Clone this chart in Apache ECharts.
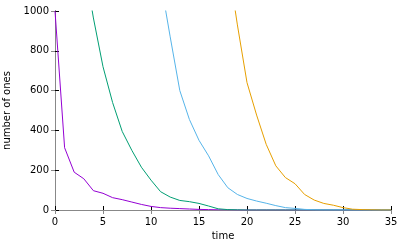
<!DOCTYPE html>
<html><head><meta charset="utf-8">
<script src="https://cdn.jsdelivr.net/npm/echarts@6/dist/echarts.min.js"></script>
<style>html,body{margin:0;padding:0;background:#fff}#c{width:409px;height:245px}</style>
</head><body><div id="c"></div>
<script>
const time = [0,1,2,3,4,5,6,7,8,9,10,11,12,13,14,15,16,17,18,19,20,21,22,23,24,25,26,27,28,29,30,31,32,33,34,35];
const run1 = [1000,313,190,157,97,84,62,52,40,28,18,12,9,7,5,3,2,1,1,0,0,0,0,0,0,0,0,0,0,0,0,0,0,0,0,0];
const run2 = [null,null,null,1250,965,720,540,395,300,215,150,92,65,48,42,33,20,6,2,1,0,0,0,0,0,0,0,0,0,0,0,0,0,0,0,0];
const run3 = [null,null,null,null,null,null,null,null,null,null,null,1150,870,600,455,350,272,178,112,78,58,45,34,22,12,8,3,1,0,0,0,0,0,0,0,0];
const run4 = [null,null,null,null,null,null,null,null,null,null,null,null,null,null,null,null,null,null,1250,930,640,477,330,222,163,132,78,50,33,24,12,4,2,1,0,0];
const xTicks = [0,5,10,15,20,25,30,35];
const yTicks = [0,200,400,600,800,1000];
const colors = ['#9400d3','#009e73','#56b4e9','#e69f00'];

const pairs = arr => time.map((t,i)=>[t,arr[i]]);
const font = 'DejaVu Sans';
const chart = echarts.init(document.getElementById('c'), null, {renderer:'canvas'});
chart.setOption({
  animation:false,
  grid:{left:55,right:18,top:11,bottom:35,containLabel:false,outerBoundsMode:'none'},
  xAxis:[{
    type:'value',min:xTicks[0],max:xTicks[xTicks.length-1],interval:5,
    name:'time',nameLocation:'middle',nameGap:21,
    nameTextStyle:{fontFamily:font,fontSize:10,color:'#000'},
    axisLine:{show:true,onZero:false,lineStyle:{color:'#000',width:1}},
    axisTick:{show:true,inside:true,length:4,lineStyle:{color:'#000'}},
    axisLabel:{fontFamily:font,fontSize:10,color:'#000',margin:7,formatter:v=>String(v)},
    splitLine:{show:false}
  },{
    type:'value',position:'top',min:0,max:35,interval:5,
    axisLine:{show:true,lineStyle:{color:'#888',width:1}},
    axisTick:{show:true,inside:true,length:4,lineStyle:{color:'#888'}},
    axisLabel:{show:false},splitLine:{show:false}
  }],
  yAxis:[{
    type:'value',min:yTicks[0],max:yTicks[yTicks.length-1],interval:200,
    name:'number of ones',nameLocation:'middle',nameGap:42,nameRotate:90,
    nameTextStyle:{fontFamily:font,fontSize:10,color:'#000'},
    axisLine:{show:true,lineStyle:{color:'#000',width:1}},
    axisTick:{show:true,inside:true,length:4,lineStyle:{color:'#000'}},
    axisLabel:{fontFamily:font,fontSize:10,color:'#000',margin:6,formatter:v=>String(v)},
    splitLine:{show:false}
  },{
    type:'value',position:'right',min:0,max:1000,interval:200,
    axisLine:{show:true,lineStyle:{color:'#888',width:1}},
    axisTick:{show:true,inside:true,length:4,lineStyle:{color:'#888'}},
    axisLabel:{show:false},splitLine:{show:false}
  }],
  series:[run1,run2,run3,run4].map((arr,i)=>({
    type:'line',data:pairs(arr),showSymbol:false,symbol:'none',clip:true,
    lineStyle:{color:colors[i],width:1},itemStyle:{color:colors[i]},
    connectNulls:false,z:2+i
  }))
});
</script></body></html>
